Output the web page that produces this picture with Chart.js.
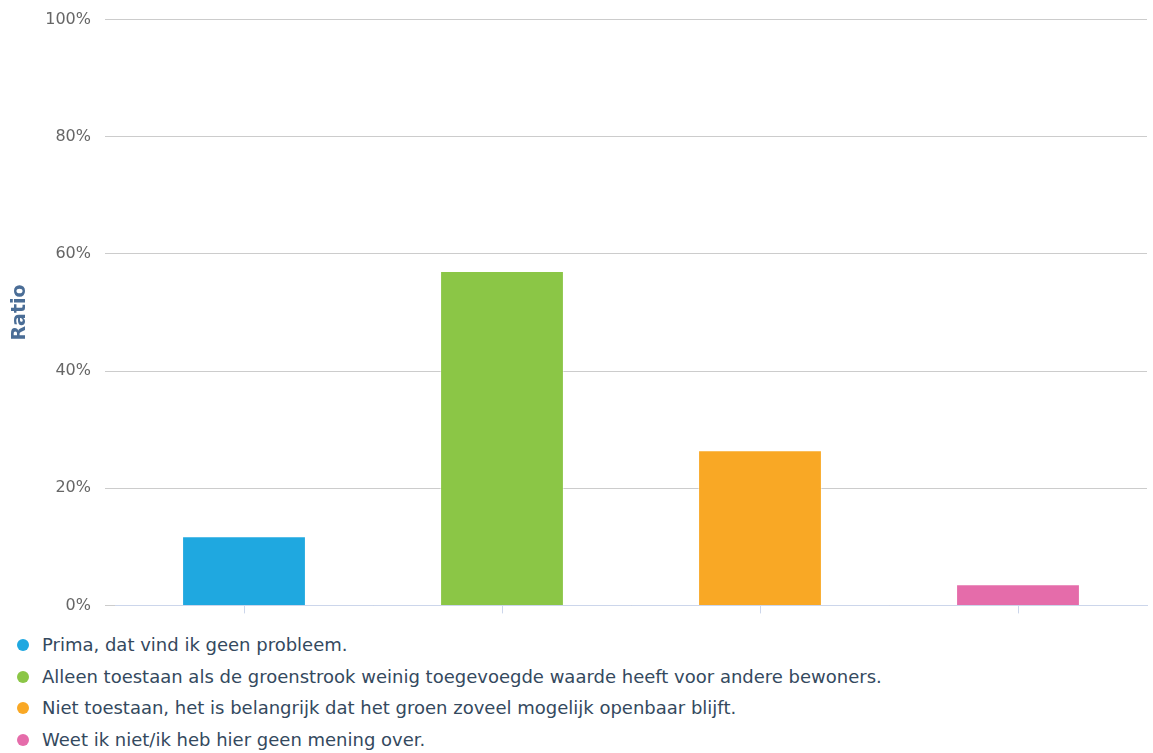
<!DOCTYPE html>
<html>
<head>
<meta charset="utf-8">
<script src="https://cdn.jsdelivr.net/npm/chart.js@4.4.0/dist/chart.umd.min.js"></script>
<style>
  body { margin: 0; background: #fff; font-family: "DejaVu Sans", sans-serif; }
  #wrap { position: relative; width: 1153px; height: 633px; margin-top: -4px; }
  #legend { list-style: none; margin: 0; padding: 0 0 0 17px; }
  #legend li { height: 31.5px; line-height: 31.5px; font-size: 18px; color: #34495e; white-space: nowrap; }
  #legend span.dot { display: inline-block; width: 12px; height: 12px; border-radius: 50%; margin-right: 13px; vertical-align: 0px; }
</style>
</head>
<body>
<div id="wrap"><canvas id="myChart"></canvas></div>
<ul id="legend"></ul>
<script>
const categories = [
  'Prima, dat vind ik geen probleem.',
  'Alleen toestaan als de groenstrook weinig toegevoegde waarde heeft voor andere bewoners.',
  'Niet toestaan, het is belangrijk dat het groen zoveel mogelijk openbaar blijft.',
  'Weet ik niet/ik heb hier geen mening over.'
];
const ratios = [11.8, 57.1, 26.5, 3.6];
const colors = ['#1fa8e0', '#8bc646', '#f9a825', '#e56caa'];
const yTicks = [0, 20, 40, 60, 80, 100];

document.addEventListener('DOMContentLoaded', function() {
  const ctx = document.getElementById('myChart').getContext('2d');
  const chart = new Chart(ctx, {
    type: 'bar',
    data: {
      labels: categories,
      datasets: [{
        label: 'Ratio',
        data: ratios,
        backgroundColor: colors,
        borderColor: 'rgba(255,255,255,0.45)',
        borderWidth: 1,
        categoryPercentage: 1,
        barPercentage: 0.48
      }]
    },
    options: {
      responsive: true,
      maintainAspectRatio: false,
      animation: false,
      layout: { padding: { top: 3, right: 6, left: 0, bottom: 0 } },
      plugins: { legend: { display: false }, tooltip: { enabled: false } },
      scales: {
        x: {
          ticks: { display: false },
          grid: { offset: false, drawOnChartArea: false, drawTicks: true, tickLength: 8, color: '#ccd6eb' },
          border: { color: '#ccd6eb', width: 1 }
        },
        y: {
          min: 0,
          max: 100,
          afterBuildTicks: function(scale) {
            scale.ticks = yTicks.map(function(v) { return { value: v }; });
          },
          afterFit: function(scale) { scale.width = 115; },
          ticks: {
            padding: 14,
            color: '#666666',
            font: { family: 'DejaVu Sans', size: 16 },
            callback: function(v) { return v + '%'; }
          },
          grid: { color: '#cccccc', tickLength: 10, drawTicks: true },
          border: { display: false },
          title: {
            display: true,
            text: 'Ratio',
            color: '#4a6d96',
            font: { family: 'DejaVu Sans', size: 19, weight: 'bold' },
            padding: { top: 9, bottom: 0 }
          }
        }
      }
    }
  });

  const legend = document.getElementById('legend');
  categories.forEach(function(c, i) {
    const li = document.createElement('li');
    const dot = document.createElement('span');
    dot.className = 'dot';
    dot.style.background = colors[i];
    li.appendChild(dot);
    li.appendChild(document.createTextNode(c));
    legend.appendChild(li);
  });
});
</script>
</body>
</html>
